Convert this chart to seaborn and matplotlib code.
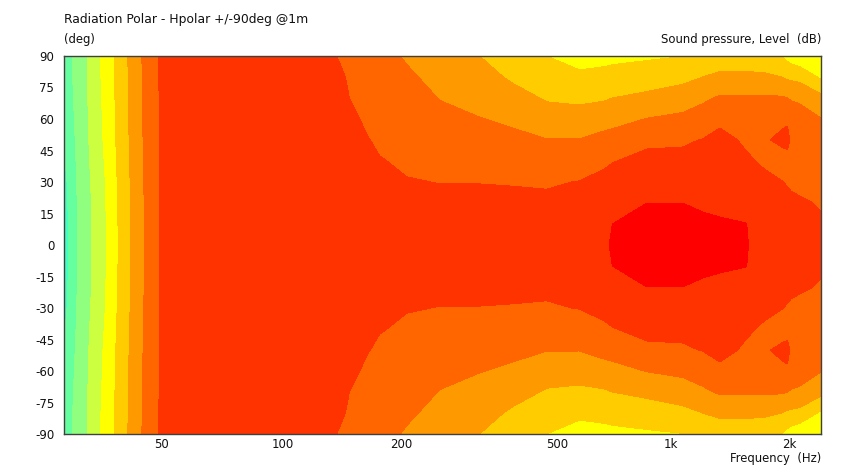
import numpy as np
import seaborn as sns
from matplotlib import pyplot as plt
from matplotlib.ticker import FixedLocator, FixedFormatter, NullFormatter

# half plane only, the polar sweep is symmetric around 0 deg
angles = [0, 10, 20, 30, 40, 50, 60, 70, 80, 90]

low_freqs = [29.5, 32.5, 36.5, 41, 46, 52, 65]
low_levels = [
    [-0.5, -0.45, -0.4, -0.3, -0.1, 0.1, 0.25, 0.35, 0.45, 0.5],
    [1.35, 1.35, 1.37, 1.4, 1.43, 1.45, 1.47, 1.5, 1.52, 1.53],
    [2.5, 2.52, 2.55, 2.6, 2.7, 2.8, 2.85, 2.9, 2.95, 3.0],
    [4.17, 4.18, 4.2, 4.25, 4.3, 4.35, 4.38, 4.4, 4.43, 4.45],
    [5.7, 5.7, 5.72, 5.75, 5.78, 5.8, 5.82, 5.84, 5.86, 5.87],
    [7.06, 7.06, 7.07, 7.07, 7.08, 7.08, 7.09, 7.09, 7.1, 7.1],
    [7.5, 7.5, 7.5, 7.5, 7.5, 7.5, 7.5, 7.5, 7.5, 7.5],
]

mid_freqs = [100, 146.5, 158, 175, 188.5, 221, 268, 339, 412, 503, 610]
mid_levels = [
    [7.5, 7.5, 7.5, 7.5, 7.5, 7.5, 7.5, 7.5, 7.5, 7.5],
    [7.7, 7.7, 7.7, 7.7, 7.6, 7.6, 7.5, 7.4, 7.2, 7.0],
    [7.7, 7.7, 7.6, 7.6, 7.5, 7.4, 7.2, 6.99, 6.9, 6.8],
    [7.6, 7.6, 7.5, 7.4, 7.25, 7.05, 6.85, 6.7, 6.55, 6.5],
    [7.6, 7.5, 7.4, 7.2, 7.05, 6.85, 6.7, 6.55, 6.4, 6.3],
    [7.5, 7.4, 7.2, 7.05, 6.85, 6.7, 6.55, 6.4, 6.15, 5.9],
    [7.5, 7.4, 7.2, 6.98, 6.75, 6.5, 6.25, 5.97, 5.7, 5.4],
    [7.5, 7.4, 7.2, 6.98, 6.65, 6.35, 6.03, 5.7, 5.35, 5.0],
    [7.5, 7.4, 7.2, 6.95, 6.6, 6.2, 5.85, 5.35, 4.85, 4.45],
    [7.5, 7.4, 7.15, 6.92, 6.5, 6.03, 5.45, 4.9, 4.4, 4.0],
    [7.6, 7.5, 7.3, 7.03, 6.5, 6.03, 5.4, 4.8, 4.2, 3.6],
]

high_freqs = [707, 740, 906, 1118, 1257, 1390, 1622, 1810, 2000, 2070, 2120, 2220, 2520]
high_levels = [
    [7.9, 7.75, 7.5, 7.2, 6.88, 6.3, 5.62, 4.9, 4.3, 3.7],
    [8.08, 8.0, 7.7, 7.3, 6.97, 6.35, 5.7, 5.0, 4.35, 3.75],
    [8.5, 8.3, 8.0, 7.6, 7.2, 6.85, 6.03, 5.2, 4.55, 3.85],
    [8.6, 8.4, 8.0, 7.6, 7.2, 6.9, 6.2, 5.55, 4.7, 3.98],
    [8.5, 8.2, 7.85, 7.6, 7.3, 7.03, 6.4, 5.85, 5.0, 4.1],
    [8.4, 8.1, 7.8, 7.6, 7.4, 7.2, 6.85, 6.1, 5.25, 4.3],
    [8.05, 8.02, 7.6, 7.3, 7.1, 6.9, 6.6, 6.1, 5.25, 4.3],
    [7.65, 7.5, 7.3, 7.15, 6.9, 6.9, 6.55, 6.1, 5.2, 4.2],
    [7.4, 7.35, 7.2, 7.03, 6.6, 7.2, 6.8, 6.1, 5.0, 4.0],
    [7.35, 7.28, 7.15, 6.95, 6.65, 7.3, 6.85, 6.0, 4.85, 3.7],
    [7.33, 7.24, 7.12, 6.9, 6.68, 6.75, 6.5, 5.92, 4.8, 3.5],
    [7.3, 7.2, 7.08, 6.85, 6.7, 6.7, 6.4, 5.85, 4.7, 3.3],
    [7.2, 7.08, 6.95, 6.8, 6.6, 6.4, 6.03, 5.3, 3.85, 2.9],
]

band_colors = ["#40ffc0", "#66ffa0", "#90ff80", "#ccff40", "#ffff00", "#ffcc00",
               "#ff9900", "#ff6600", "#ff3300", "#ff0000"]
band_edges = [-2, 0, 1, 2, 3, 4, 5, 6, 7, 8, 10]

freq_labels = ["50", "100", "200", "500", "1k", "2k"]
freq_label_pos = [50, 100, 200, 500, 1000, 2000]
freq_minor = [35, 40, 45, 250, 300, 350, 400, 450, 600, 700, 800, 900, 1500]
angle_ticks = [-90, -75, -60, -45, -30, -15, 0, 15, 30, 45, 60, 75, 90]

sns.set_theme(style="ticks")
plt.rcParams["font.family"] = ["DejaVu Sans"]
plt.rcParams["axes.unicode_minus"] = False

freqs = np.array(low_freqs + mid_freqs + high_freqs)
half = np.array(low_levels + mid_levels + high_levels).T
z = np.vstack([half[:0:-1], half])
y = np.array([-a for a in angles[:0:-1]] + angles)

fig = plt.figure(figsize=(8.48, 4.69), dpi=100)
ax = fig.add_axes([64 / 848, 1 - 434 / 469, (821 - 64) / 848, (434 - 56) / 469])
ax.contourf(freqs, y, z, levels=band_edges, colors=sns.color_palette(band_colors))
ax.set_xscale("log")
ax.set_xlim(29.5, 2520)
ax.set_ylim(-90, 90)

ax.xaxis.set_major_locator(FixedLocator(freq_label_pos))
ax.xaxis.set_major_formatter(FixedFormatter(freq_labels))
ax.xaxis.set_minor_locator(FixedLocator(freq_minor))
ax.xaxis.set_minor_formatter(NullFormatter())
ax.set_yticks(angle_ticks)
ax.tick_params(axis="both", which="both", direction="in", top=True, right=True,
               length=3, width=0.6, color="#404040", labelsize=8.5, labelcolor="#111111")
ax.tick_params(axis="x", which="major", pad=3)
ax.tick_params(axis="y", which="major", pad=7)
for lab in ax.get_xticklabels():
    lab.set_ha("left")
for side in ax.spines.values():
    side.set_color("#404040")
    side.set_linewidth(1)

fig.text(64 / 848, 1 - 20 / 469, "Radiation Polar - Hpolar +/-90deg @1m", fontsize=8.9, color="#111111", va="center")
fig.text(64 / 848, 1 - 39 / 469, "(deg)", fontsize=8.4, color="#111111", va="center")
fig.text(821 / 848, 1 - 39 / 469, "Sound pressure, Level  (dB)", fontsize=8.4, color="#111111", va="center", ha="right")
fig.text(821 / 848, 1 - 458 / 469, "Frequency  (Hz)", fontsize=8.4, color="#111111", va="center", ha="right")

plt.savefig("out.png", dpi=100)
